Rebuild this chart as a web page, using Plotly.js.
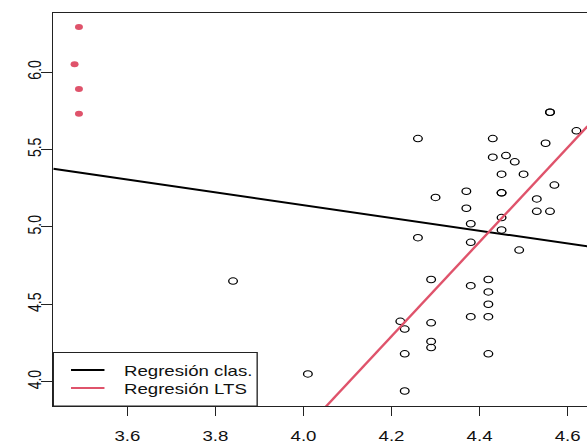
<!DOCTYPE html>
<html>
<head>
<meta charset="utf-8">
<script src="https://cdn.plot.ly/plotly-3.0.1.min.js"></script>
<style>
  html, body { margin: 0; padding: 0; background: #fff; overflow: hidden; }
  #plot { width: 441px; height: 442px; transform: scaleX(1.3325); transform-origin: 0 0; }
</style>
</head>
<body>
<div id="plot"></div>
<script>
// Star cluster CYG OB1: log temperature vs log light intensity
const logTe = [4.37,4.56,4.26,4.56,4.30,4.46,3.84,4.57,4.26,4.37,4.43,4.48,4.01,4.29,4.42,4.23,4.42,4.23,4.29,4.29,4.42,4.49,4.38,4.42,4.29,4.38,4.22,4.38,4.56,4.45,4.23,4.62,4.53,4.45,4.53,4.43,4.38,4.45,4.50,4.45,4.55,4.45,4.42];
const logLight = [5.23,5.74,4.93,5.74,5.19,5.46,4.65,5.27,5.57,5.12,5.45,5.42,4.05,4.26,4.58,3.94,4.18,4.18,4.38,4.22,4.42,4.85,5.02,4.66,4.66,4.90,4.39,4.42,5.10,5.22,4.34,5.62,5.10,5.22,5.18,5.57,4.62,5.06,5.34,5.34,5.54,4.98,4.50];
const outlierTe = [3.49,3.49,3.48,3.49];
const outlierLight = [5.73,5.89,6.05,6.29];

// regression coefficients [intercept, slope]
const olsCoef = [6.7935, -0.4133];
const ltsCoef = [-8.500, 3.046];
const lineNames = ["Regresión clas.", "Regresión LTS"];
const xTicks = [3.6, 3.8, 4.0, 4.2, 4.4, 4.6];
const yTicks = [4.0, 4.5, 5.0, 5.5, 6.0];

const xRange = [3.4317, 4.6455];
const yRange = [3.843, 6.381];
const red = "#DF536B";

function abline(coef) {
  return { x: xRange.slice(), y: xRange.map(v => coef[0] + coef[1] * v) };
}
const ols = abline(olsCoef), lts = abline(ltsCoef);

const traces = [
  { x: logTe, y: logLight, type: "scatter", mode: "markers", showlegend: false,
    marker: { symbol: "circle-open", size: 6.5, color: "#000", line: { width: 1, color: "#000" } }, hoverinfo: "skip" },
  { x: outlierTe, y: outlierLight, type: "scatter", mode: "markers", showlegend: false,
    marker: { symbol: "circle", size: 6, color: red }, hoverinfo: "skip" },
  { x: ols.x, y: ols.y, type: "scatter", mode: "lines", name: lineNames[0], showlegend: false,
    line: { color: "#000", width: 2 }, hoverinfo: "skip" },
  { x: lts.x, y: lts.y, type: "scatter", mode: "lines", name: lineNames[1], showlegend: false,
    line: { color: red, width: 2 }, hoverinfo: "skip" }
];

const W = 441, H = 442, ML = 40, MR = 0, MT = 13, MB = 36;
const PW = W - ML - MR, PH = H - MT - MB;
const px = v => (v - ML) / PW;         // pixel -> paper x
const py = v => (H - MB - v) / PH;     // pixel -> paper y

const font = { family: "Liberation Sans, Arial, sans-serif", size: 14, color: "#111" };

// legend box (R style), drawn with shapes and annotations
const legColors = ["#000", red];
const legRowsY = [370, 388];
const shapes = [
  { type: "rect", xref: "paper", yref: "paper", x0: px(40), x1: px(193), y0: py(406), y1: py(352.5),
    line: { color: "#222", width: 1 }, fillcolor: "#fff", layer: "above" }
];
const annotations = [];
lineNames.forEach((name, i) => {
  shapes.push({ type: "line", xref: "paper", yref: "paper", x0: px(53.3), x1: px(78.4),
    y0: py(legRowsY[i]), y1: py(legRowsY[i]), line: { color: legColors[i], width: 2 }, layer: "above" });
  annotations.push({ xref: "paper", yref: "paper", x: px(91), y: py(legRowsY[i] + 1),
    xanchor: "left", yanchor: "middle", text: name, showarrow: false, font: font });
});

const layout = {
  width: W, height: H,
  margin: { l: ML, r: MR, t: MT, b: MB, pad: 0 },
  paper_bgcolor: "#fff", plot_bgcolor: "#fff",
  font: font,
  showlegend: false,
  shapes: shapes,
  annotations: annotations,
  xaxis: {
    range: xRange, tickvals: xTicks, ticktext: xTicks.map(v => v.toFixed(1)),
    showgrid: false, zeroline: false, showline: true, mirror: true,
    linecolor: "#222", linewidth: 1,
    ticks: "outside", ticklen: 9, tickwidth: 1, tickcolor: "#222",
    ticklabelstandoff: 8, tickfont: font
  },
  yaxis: {
    range: yRange, tickvals: yTicks, ticktext: yTicks.map(v => v.toFixed(1)),
    showgrid: false, zeroline: false, showline: true, mirror: false,
    linecolor: "#222", linewidth: 1,
    ticks: "outside", ticklen: 8, tickwidth: 1, tickcolor: "#222",
    ticklabelstandoff: -5, tickangle: -90, tickfont: font
  }
};

Plotly.newPlot("plot", traces, layout, { staticPlot: true, displayModeBar: false });
</script>
</body>
</html>
